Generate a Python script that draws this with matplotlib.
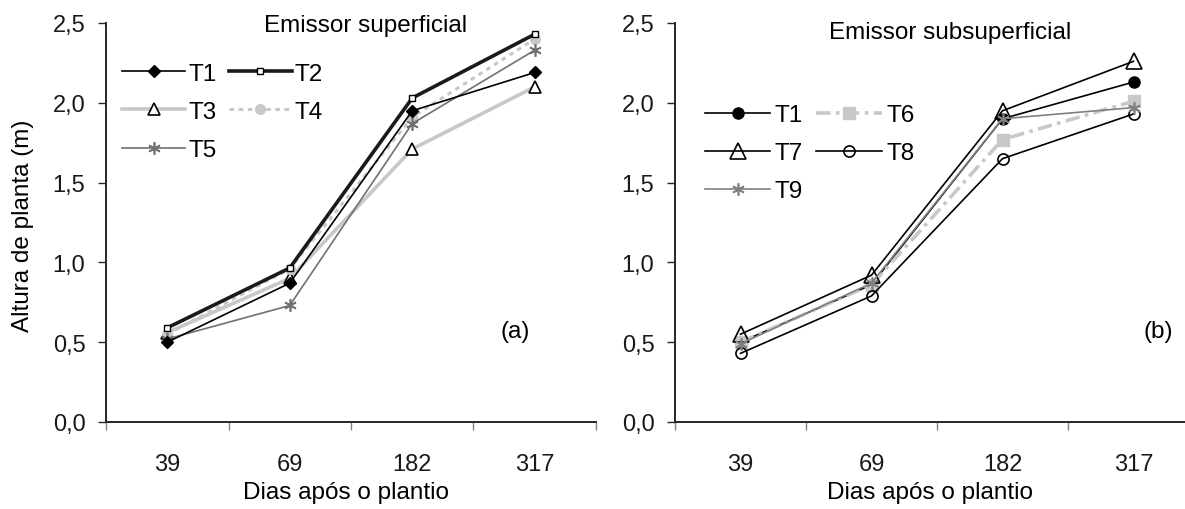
import matplotlib
matplotlib.use("Agg")
import matplotlib.pyplot as plt
from matplotlib.ticker import FixedLocator, NullFormatter, FixedFormatter

plt.rcParams['font.family'] = ['Liberation Sans', 'DejaVu Sans']

days = ['39', '69', '182', '317']

# Panel (a) - Emissor superficial
a_T1 = [0.50, 0.87, 1.95, 2.19]
a_T2 = [0.59, 0.965, 2.03, 2.43]
a_T3 = [0.56, 0.90, 1.71, 2.10]
a_T4 = [0.55, 0.96, 1.91, 2.40]
a_T5 = [0.52, 0.73, 1.87, 2.33]

# Panel (b) - Emissor subsuperficial
b_T1 = [0.50, 0.86, 1.90, 2.13]
b_T6 = [0.50, 0.86, 1.77, 2.01]
b_T7 = [0.55, 0.92, 1.95, 2.26]
b_T8 = [0.43, 0.79, 1.65, 1.93]
b_T9 = [0.49, 0.87, 1.90, 1.97]

yticks = [0.0, 0.5, 1.0, 1.5, 2.0, 2.5]
ytick_labels = ['0,0', '0,5', '1,0', '1,5', '2,0', '2,5']

FS = 17.5
TFS = 17
W, H = 1185, 510
fig = plt.figure(figsize=(W / 100, H / 100), dpi=100)

def px_axes(x0, x1, ytop, ybot):
    return [x0 / W, 1 - ybot / H, (x1 - x0) / W, (ybot - ytop) / H]

axa = fig.add_axes(px_axes(106, 596, 24, 423))
axb = fig.add_axes(px_axes(675, 1199, 24, 423))

LG = '#c8c8c8'
DG = '#707070'

def style(ax):
    x = range(len(days))
    ax.set_xlim(-0.5, len(days) - 0.5)
    ax.set_ylim(0, 2.5)
    for s in ['top', 'right']:
        ax.spines[s].set_visible(False)
    for s in ['left', 'bottom']:
        ax.spines[s].set_linewidth(1.4)
        ax.spines[s].set_color('#262626')
    ax.xaxis.set_major_locator(FixedLocator([i - 0.5 for i in range(len(days) + 1)]))
    ax.xaxis.set_major_formatter(NullFormatter())
    ax.xaxis.set_minor_locator(FixedLocator(list(x)))
    ax.xaxis.set_minor_formatter(FixedFormatter(days))
    ax.tick_params(axis='x', which='major', direction='out', length=5.8, width=1.0, color='#808080')
    ax.tick_params(axis='x', which='minor', length=0, pad=22, labelsize=TFS, labelcolor='#1a1a1a')
    ax.set_yticks(yticks)
    ax.set_yticklabels(ytick_labels)
    ax.tick_params(axis='y', direction='out', length=5.8, width=1.0, color='#262626', pad=9, labelsize=TFS, labelcolor='#1a1a1a')

x = list(range(len(days)))

# Panel (a)
l1, = axa.plot(x, a_T1, color='black', lw=1.2, marker='D', ms=6, mfc='black', mec='black', label='T1')
l2, = axa.plot(x, a_T2, color='#1a1a1a', lw=2.6, marker='s', ms=5, mfc='white', mec='black', mew=1.0, label='T2')
l3, = axa.plot(x, a_T3, color=LG, lw=2.6, marker='^', ms=8, mfc='white', mec='black', mew=1.2, label='T3')
l4, = axa.plot(x, a_T4, color=LG, lw=2.2, ls=(0, (1.5, 1.5)), marker='o', ms=7, mfc=LG, mec=LG, label='T4')
l5, = axa.plot(x, a_T5, color=DG, lw=1.2, marker=(6, 2, 0), ms=9, mec=DG, mew=1.2, label='T5')
l2.set_zorder(5)
l1.set_zorder(4)
style(axa)
axa.legend(handles=[l1, l3, l5, l2, l4], ncol=2, loc='upper left',
           bbox_to_anchor=(0.033, 0.90), frameon=False, fontsize=FS,
           handlelength=2.6, handletextpad=0.12, columnspacing=0.5,
           labelspacing=0.66, borderaxespad=0, borderpad=0)
axa.text(0.53, 0.98, 'Emissor superficial', transform=axa.transAxes, ha='center', va='baseline', fontsize=FS)
axa.text(0.835, 0.213, '(a)', transform=axa.transAxes, ha='center', va='baseline', fontsize=FS)

# Panel (b)
m1, = axb.plot(x, b_T1, color='black', lw=1.2, marker='o', ms=8, mfc='black', mec='black', label='T1')
m6, = axb.plot(x, b_T6, color=LG, lw=2.6, ls=(0, (4, 1.5, 1, 1.5)), marker='s', ms=9, mfc=LG, mec=LG, label='T6')
m7, = axb.plot(x, b_T7, color='black', lw=1.2, marker='^', ms=11, mfc='none', mec='black', mew=1.2, label='T7')
m8, = axb.plot(x, b_T8, color='black', lw=1.2, marker='o', ms=8, mfc='none', mec='black', mew=1.2, label='T8')
m9, = axb.plot(x, b_T9, color='#808080', lw=1.2, marker=(6, 2, 0), ms=9, mec='#808080', mew=1.2, label='T9')
style(axb)
axb.legend(handles=[m1, m7, m9, m6, m8], ncol=2, loc='upper left',
           bbox_to_anchor=(0.057, 0.797), frameon=False, fontsize=FS,
           handlelength=2.7, handletextpad=0.18, columnspacing=0.55,
           labelspacing=0.66, borderaxespad=0, borderpad=0)
axb.text(0.525, 0.962, 'Emissor subsuperficial', transform=axb.transAxes, ha='center', va='baseline', fontsize=FS)
axb.text(0.922, 0.213, '(b)', transform=axb.transAxes, ha='center', va='baseline', fontsize=FS)

fig.text(346 / W, 1 - 493 / H, 'Dias após o plantio', ha='center', va='center', fontsize=FS)
fig.text(930 / W, 1 - 493 / H, 'Dias após o plantio', ha='center', va='center', fontsize=FS)
fig.text(23 / W, 1 - 226 / H, 'Altura de planta (m)', ha='center', va='center', rotation=90, fontsize=FS)

fig.savefig('out.png', dpi=100)
